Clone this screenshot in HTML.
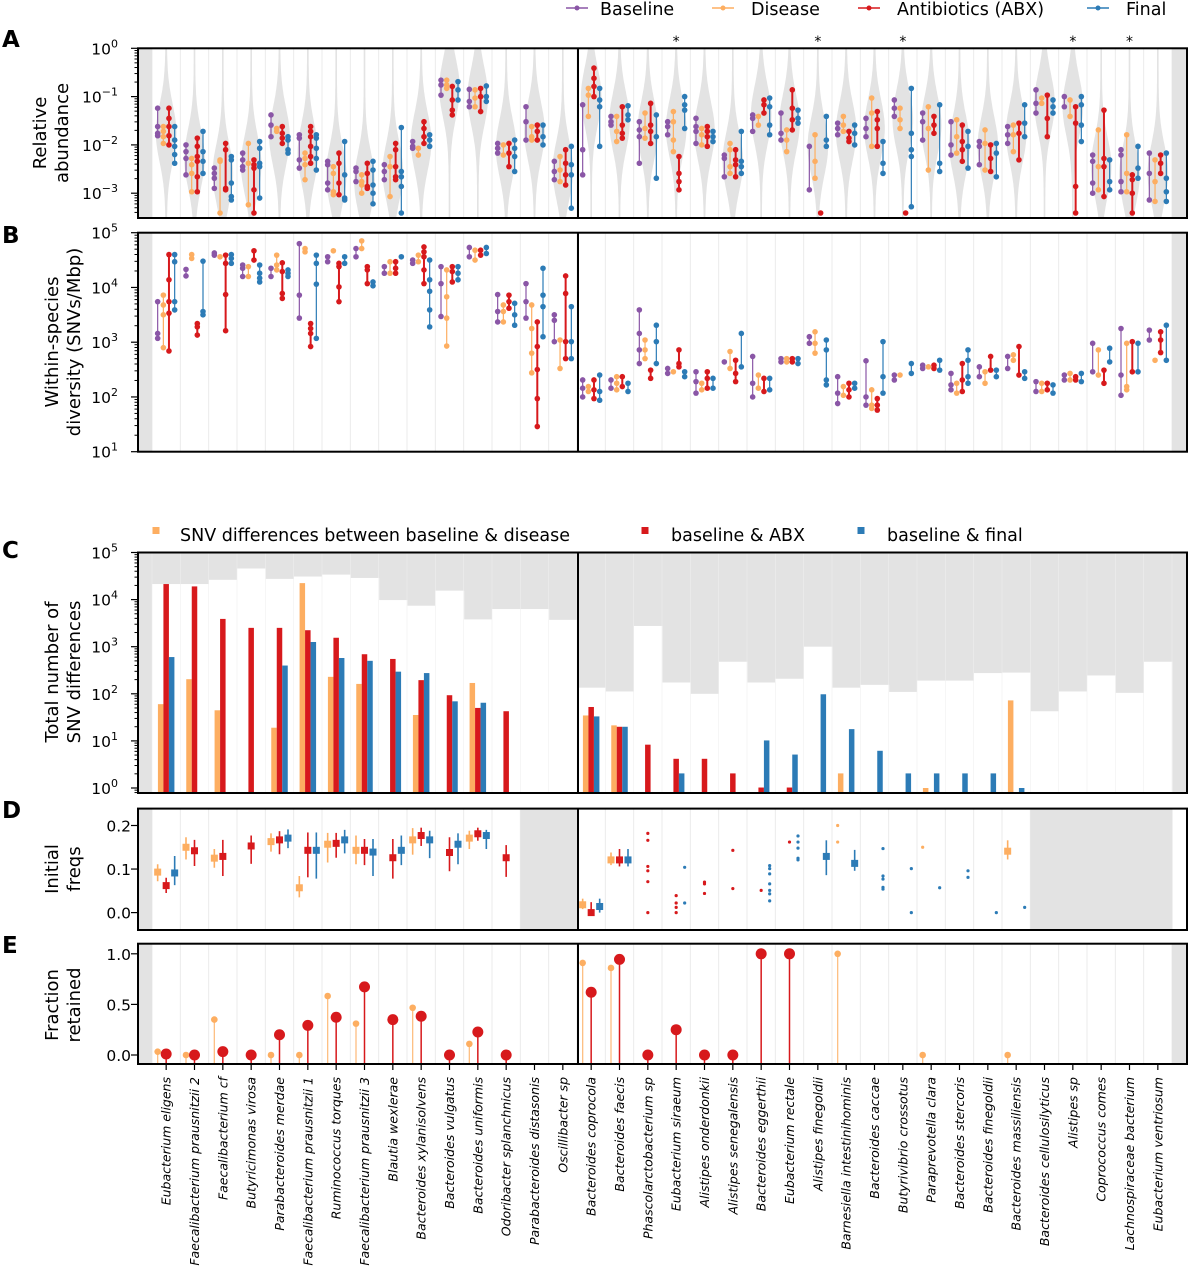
<!DOCTYPE html>
<html><head><meta charset="utf-8"><style>
body{margin:0;background:#fff}
svg{display:block;font-family:"DejaVu Sans","Liberation Sans",sans-serif}
</style></head><body>
<svg id="fig" width="1189" height="1280" viewBox="0 0 1189 1280" xmlns="http://www.w3.org/2000/svg"></svg>
<script>
// ---------- DATA ----------
const species = ["Eubacterium eligens","Faecalibacterium prausnitzii 2","Faecalibacterium cf","Butyricimonas virosa","Parabacteroides merdae","Faecalibacterium prausnitzii 1","Ruminococcus torques","Faecalibacterium prausnitzii 3","Blautia wexlerae","Bacteroides xylanisolvens","Bacteroides vulgatus","Bacteroides uniformis","Odoribacter splanchnicus","Parabacteroides distasonis","Oscillibacter sp","Bacteroides coprocola","Bacteroides faecis","Phascolarctobacterium sp","Eubacterium siraeum","Alistipes onderdonkii","Alistipes senegalensis","Bacteroides eggerthii","Eubacterium rectale","Alistipes finegoldii","Barnesiella intestinihominis","Bacteroides caccae","Butyrivibrio crossotus","Paraprevotella clara","Bacteroides stercoris","Bacteroides finegoldii","Bacteroides massiliensis","Bacteroides cellulosilyticus","Alistipes sp","Coprococcus comes","Lachnospiraceae bacterium","Eubacterium ventriosum"];
// Panel A: log10 relative abundance
const abBaseline = [[-1.24,-1.62,-1.76,-1.81],[-2,-2.14,-2.28,-2.62],[-2.48,-2.59,-2.69,-2.9],[-2.17,-2.31,-2.45,-2.52],[-1.38,-1.59,-1.83],[-1.79,-1.86,-2.31,-2.48],[-2.34,-2.41,-2.79,-2.93],[-2.48,-2.55,-2.76],[-2.41,-2.55,-2.72],[-1.93,-2.03,-2.07],[-0.66,-0.76,-0.97],[-0.85,-1.1,-1.21],[-1.97,-2.07,-2.17],[-1.21,-1.52,-1.9],[-2.34,-2.55,-2.72],
[-1.17,-2.1,-2.62],[-1.41,-1.52,-1.59],[-1.52,-1.69,-1.83,-2.38],[-1.52,-1.62,-1.79],[-1.45,-1.62,-1.72,-1.97],[-2.21,-2.28,-2.66],[-1.38,-1.45,-1.72],[-1.34,-1.76,-1.9],[-2.03,-2.93],[-1.55,-1.66,-1.79],[-1.45,-1.66,-1.83],[-1.07,-1.24,-1.41],[-1.34,-1.52,-1.9],[-1.52,-2,-2.21],[-1.93,-2.03,-2.41],[-1.62,-1.79,-1.97],[-0.86,-1.14,-1.34],[-1,-1.21],[-2.21,-2.34,-2.79,-3],[-2.1,-2.21,-2.76,-2.97],[-2.17,-2.59,-3.14]];
const abDisease = [[-1.62,-1.72,-1.83,-1.97],[-2.28,-2.41,-2.59,-2.97],[-2.31,-2.34,-3.41],[-1.97,-2.38,-3.24],[-1.66,-1.72],[-2.17,-2.28,-2.41,-2.72],[-2.45,-2.59,-2.97,-3.03],[-2.62,-2.76,-2.83,-3],[-2.24,-2.45,-3.07],[-2.07,-2.21],[-0.66,-0.76,-0.83],[-0.86,-1.03,-1.21],[-2,-2.21],[-1.62,-1.83,-1.9],[-2.24,-2.52,-2.76],
[-0.83,-0.97,-1.41],[-1.41,-1.72,-1.93],[-1.34,-1.66,-1.86],[-1.31,-1.52,-1.9,-2.14],[-1.66,-1.79,-2],[-1.97,-2.1,-2.45,-2.59],[-1.41,-1.59],[-1.69,-1.9,-2.14],[-1.79,-2.34,-2.69],[-1.41,-1.59,-1.72],[-1.03,-1.34,-2.03],[-1.24,-1.48,-1.66],[-1.21,-1.66,-2.52],[-1.48,-1.83,-2.17],[-1.69,-1.97,-2.52],[-1.59,-1.79,-2.14],[-1.03,-1.14],[-1.07,-1.41],[-1.69,-2.45,-2.93],[-1.79,-2.59,-2.97],[-2.31,-2.76,-3.17]];
const abAbx = [[-1.24,-1.45,-1.62,-1.81,-2],[-1.86,-2.03,-2.24,-2.34,-2.66,-2.97],[-1.97,-2.1,-2.9,-2.93],[-2.31,-2.41,-2.48,-2.93,-3.41],[-1.62,-1.76,-1.86,-1.97],[-1.62,-1.72,-1.83,-2.03,-2.24,-2.38],[-2.17,-2.38,-2.79,-3.03],[-2.38,-2.59,-2.86,-2.9],[-1.97,-2.1,-2.45,-2.66,-2.72],[-1.52,-1.66,-1.83,-1.97],[-0.79,-1.07,-1.28,-1.38],[-0.83,-1,-1.31],[-1.97,-2.17,-2.45],[-1.59,-1.72,-1.9],[-2.1,-2.38,-2.62,-2.83],
[-0.41,-0.62,-0.79,-1],[-1.21,-1.59,-1.76,-1.86],[-1.14,-1.59,-1.72,-1.97],[-2.24,-2.59,-2.76,-2.93],[-1.62,-1.72,-1.83,-2.03],[-2.1,-2.31,-2.41,-2.66],[-1.07,-1.17,-1.34],[-0.86,-1.24,-1.48,-1.69],[-3.41],[-1.72,-1.86,-1.93],[-1.31,-1.48,-1.66,-2.03],[-3.41],[-1.41,-1.59,-1.76],[-1.59,-1.93,-2.1,-2.34],[-2,-2.28,-2.55],[-1.55,-1.76,-2.31],[-0.97,-1.45,-1.83],[-1.21,-1.55,-2.86,-3.41],[-1.28,-2.28,-2.45,-3.07],[-2.62,-2.72,-3,-3.41],[-2.21,-2.38,-2.59]];
const abFinal = [[-1.62,-1.9,-2.03,-2.2,-2.38],[-1.72,-2.14,-2.34,-2.59],[-2.24,-2.31,-2.79,-3.07,-3.14],[-1.93,-2.07,-2.38,-2.45,-3.1],[-1.83,-1.9,-2.1,-2.17],[-1.79,-1.86,-2.07,-2.28,-2.52],[-1.93,-2.62,-3.1,-3.14],[-2.34,-2.52,-2.83,-3,-3.22],[-1.64,-2.55,-2.66,-2.86,-3.41],[-1.79,-1.9,-2.03],[-0.69,-0.86,-1.07],[-0.78,-1,-1.1],[-1.9,-2.07,-2.24,-2.55],[-1.59,-1.83,-2],[-2.03,-2.41,-2.62,-3.31],
[-0.83,-1.07,-1.21,-2.03],[-1.19,-1.38,-1.48],[-1.38,-1.83,-2.69],[-1,-1.17,-1.28,-1.66],[-1.72,-1.83,-1.93],[-1.72,-2.34,-2.45,-2.59],[-1.03,-1.21,-1.59,-1.79],[-1.28,-1.45,-1.55],[-1.41,-1.9,-2.03],[-1.59,-1.76,-2],[-1.93,-2.38,-2.59],[-0.83,-1.76,-2.1,-2.24,-3.28],[-1.17,-2.38,-2.55],[-1.72,-2.03,-2.48],[-1.97,-2.17,-2.66],[-1.17,-1.55,-1.83],[-1.07,-1.21,-1.34],[-1,-1.17,-1.59,-1.93],[-2.31,-2.76,-2.93],[-2.03,-2.48,-2.69],[-2.17,-2.69,-2.97,-3.17]];
const starCats = [18,23,26,32,34];
// Panel B: log10 SNVs/Mbp
const divBaseline = [[3.74,3.16,3.07],[4.33,4.21],[4.63,4.59],[4.41,4.35,4.2],[4.35,4.2],[4.8,3.86,3.44],[4.56,4.47],[4.71,4.56],[4.38,4.26],[4.5,4.44],[4.38,4.07,3.47],[4.73,4.56],[3.87,3.56,3.37],[4.07,3.74,3.44],[3.5,3.4,3.01],
[2.31,2.16,2.0],[2.31,2.16],[3.59,3.16,2.86,2.61],[2.52,2.43],[2.46,2.28,2.07],[2.64],[2.74,2.25,2.0],[2.7,2.64],[3.1,2.98],[2.37,2.07,1.88],[2.66,2.0,1.85],[2.4,2.31],[2.58,2.52],[2.43,2.22,2.13],[2.55,2.37],[2.74,2.52],[2.28,2.1],[2.4,2.31],[2.98,2.46],[3.25,2.4,2.03],[3.22,3.04]];
const divDisease = [[3.86,3.68,3.5,2.9],[4.6,4.53],[4.56],[4.38,4.2],[4.59,4.41,4.32],[4.71,4.65],[4.67],[4.85,4.71],[4.47,4.26],[4.59,4.47],[4.32,3.83,3.44,2.93],[4.68,4.5],[3.68,3.56,3.37],[3.68,3.25,2.8,2.44],[3.04,2.52],
[2.19,2.1],[2.37,2.25,2.13],[3.04,2.86,2.7],[2.46],[2.25,2.13],[2.83,2.52],[2.4,2.16],[2.7,2.64],[3.19,2.98,2.8],[2.19,2.03],[2.13,1.85,1.79],[2.4],[2.55],[2.25,2.07],[2.46,2.25],[2.77,2.67],[2.25,2.1],[2.43,2.31],[2.86,2.4],[2.98,2.19,2.13],[2.67]];
const divAbx = [[4.6,4.14,3.74,3.53,2.84],[3.34,3.28,3.13],[4.59,4.44,3.87,3.21],[4.67,4.5],[4.45,4.29,3.89,3.8],[3.34,3.25,3.16,2.92],[4.44,4.38,4.01,3.74],[4.38,4.32,4.07],[4.47,4.35,4.26],[4.74,4.65,4.56,4.32,4.07],[4.38,4.29,4.1],[4.68,4.59],[3.86,3.74,3.62],[3.37,2.92,2.5,1.97,1.46],[4.21,3.89,3.01,2.7],
[2.31,2.13,1.97],[2.37,2.19],[2.49,2.34],[2.86,2.61,2.55],[2.46,2.34,2.16],[2.67,2.43,2.28],[2.34,2.1],[2.7,2.64],[],[2.25,2.13,2.0],[1.97,1.85,1.76],[],[2.58,2.52],[2.61,2.31,2.1],[2.74,2.49],[2.92,2.4],[2.25,2.13],[2.37,2.31],[2.49,2.25],[3.01,2.46],[3.19,3.04,2.81]];
const divFinal = [[4.6,4.47,3.74,3.59],[4.48,3.56,3.5],[4.6,4.53,4.44],[4.41,4.26,4.17,4.1],[4.32,4.26,4.2],[4.59,4.44,4.06,3.07],[4.56,4.44],[4.1,4.03],[4.56],[4.5,4.14,3.93,3.59,3.28],[4.38,4.26,4.14],[4.73,4.62],[3.71,3.5,3.31],[4.35,3.86,3.65,3.1],[3.65,3.01,2.7],
[2.4,2.1,1.94],[2.25,2.1],[3.31,3.01,2.61],[2.46,2.37],[2.34,2.16],[3.16,2.55],[2.34,2.13],[2.7,2.61],[3.04,2.86,2.31,2.22],[2.25,2.16],[3.01,2.37,2.07],[2.61,2.43],[2.67,2.49],[2.86,2.67,2.37,2.25],[2.49,2.37],[2.46,2.34],[2.22,2.07],[2.43,2.28],[2.89,2.64],[2.98,2.46],[3.31,2.67]];
// Panel C: log10 number of SNV differences
const snvTotal = [4.33,4.33,4.42,4.66,4.44,4.49,4.53,4.46,3.99,3.87,4.19,3.58,3.8,3.8,3.57,2.13,2.05,3.44,2.24,2.0,2.68,2.24,2.32,3.0,2.13,2.19,2.04,2.28,2.28,2.44,2.45,1.63,2.05,2.39,2.02,2.68];
const snvDisease = [1.78,2.31,1.65,null,1.28,4.35,2.36,2.21,null,1.55,null,2.23,null,null,null,1.54,1.33,null,null,null,null,null,null,null,0.31,null,null,0.0,null,null,1.86,null,null,null,null,null];
const snvAbx = [4.33,4.28,3.59,3.4,3.4,3.35,3.19,2.84,2.74,2.29,1.97,1.7,1.63,null,null,1.72,1.3,0.92,0.62,0.62,0.31,0.01,0.01,null,null,null,null,null,null,null,null,null,null,null,null,null];
const snvFinal = [2.78,null,null,null,2.6,3.1,2.76,2.7,2.47,2.44,1.84,1.81,null,null,null,1.52,1.3,null,0.31,null,null,1.01,0.71,1.99,1.25,0.79,0.31,0.31,0.31,0.31,0.0,null,null,null,null,null];
// Panel D: initial freqs [mean, low, high]
const freqDisease = [[0.093,0.072,0.111],[0.15,0.122,0.173],[0.125,0.103,0.146],null,[0.163,0.14,0.182],[0.057,0.035,0.084],[0.157,0.115,0.183],[0.143,0.111,0.177],null,[0.167,0.133,0.194],null,[0.171,0.146,0.188],null,null,null,[0.018,0.008,0.032],[0.121,0.109,0.138],null,null,null,null,null,null,null,null,null,null,null,null,null,[0.141,0.122,0.166],null,null,null,null,null];
const freqAbx = [[0.062,0.045,0.08],[0.142,0.107,0.167],[0.129,0.084,0.167],[0.153,0.112,0.177],[0.167,0.134,0.187],[0.143,0.081,0.184],[0.159,0.126,0.183],[0.143,0.109,0.169],[0.126,0.078,0.169],[0.177,0.153,0.195],[0.138,0.095,0.173],[0.181,0.165,0.195],[0.126,0.082,0.155],null,null,[0.0,0.0,0.024],[0.121,0.106,0.146],null,null,null,null,null,null,null,null,null,null,null,null,null,null,null,null,null,null,null];
const freqFinal = [[0.091,0.063,0.13],null,null,null,[0.171,0.148,0.191],[0.143,0.078,0.184],[0.167,0.136,0.19],[0.139,0.084,0.169],[0.143,0.109,0.177],[0.167,0.125,0.188],[0.157,0.111,0.182],[0.177,0.146,0.19],null,null,null,[0.014,0.0,0.032],[0.121,0.106,0.146],null,null,null,null,null,null,[0.129,0.086,0.166],[0.113,0.096,0.144],null,null,null,null,null,null,null,null,null,null,null];
const dotsDisease = [[],[],[],[],[],[],[],[],[],[],[],[],[],[],[],[],[],[],[],[],[],[],[],[],[0.2,0.162],[],[],[0.15],[],[],[],[],[],[],[],[]];
const dotsAbx = [[],[],[],[],[],[],[],[],[],[],[],[],[],[],[],[],[],[0.182,0.166,0.106,0.096,0.071,0.0],[0.039,0.022,0.012,0.0],[0.07,0.066,0.044],[0.143,0.055],[0.051],[0.162],[],[],[],[],[],[],[],[],[],[],[],[],[]];
const dotsFinal = [[],[],[],[],[],[],[],[],[],[],[],[],[],[],[],[],[],[],[0.104,0.022],[],[],[0.108,0.101,0.089,0.066,0.051,0.043,0.027],[0.176,0.162,0.148,0.125,0.121],[],[],[0.147,0.084,0.077,0.058,0.054],[0.101,0.0],[0.057],[0.096,0.081],[0.0],[0.012],[],[],[],[],[]];
const freqMissing = [13,14,31,32,33,34,35];
// Panel E: fraction retained
const retDisease = [0.033,0,0.35,null,0,0,0.583,0.31,null,0.467,null,0.11,null,null,null,0.91,0.86,null,null,null,null,null,null,null,1.0,null,null,0,null,null,0,null,null,null,null,null];
const retAbx = [0.01,0,0.033,0,0.2,0.293,0.373,0.673,0.35,0.383,0,0.227,0,null,null,0.62,0.945,0,0.25,0,0,1.0,1.0,null,null,null,null,null,null,null,null,null,null,null,null,null];

// ---------- HELPERS ----------
const NS = "http://www.w3.org/2000/svg";
const svg = document.getElementById('fig');
function el(tag, attrs, parent){ const e=document.createElementNS(NS,tag); for(const k in attrs) e.setAttribute(k,attrs[k]); (parent||svg).appendChild(e); return e; }
const COL = {P:"#8a56a6",O:"#fdae61",R:"#d7191c",B:"#2c7bb6"};
const X0=152, X1=1172, N=species.length, W=(X1-X0)/N, AXL=138, AXR=1187;
const xc = i => X0+(i+0.5)*W;
const P = {
 A:{t:48.3,b:218, y:l=>48.3+(0-l)*48.3},
 B:{t:232.7,b:451.7, y:l=>232.7+(5-l)*54.75},
 C:{t:552.5,b:793, y:l=>552.5+(5-l)*47.1},
 D:{t:808.6,b:930, y:v=>912.6-v*435.5},
 E:{t:943.7,b:1064, y:v=>1055-v*101.2}
};
function panelBg(p, name){
  el('rect',{x:AXL,y:p.t,width:AXR-AXL,height:p.b-p.t,fill:'#fff'});
  for(let i=0;i<=N;i++){ const l=el('line',{x1:X0+i*W,x2:X0+i*W,y1:p.t,y2:p.b,stroke:'#ebebeb','stroke-width':1});
      }
}
function grayStrips(p){
  el('rect',{x:AXL,y:p.t,width:X0-AXL,height:p.b-p.t,fill:'#e3e3e3'});
  el('rect',{x:X1,y:p.t,width:AXR-X1,height:p.b-p.t,fill:'#e3e3e3'});
}
function frame(p,name){
  const d=el('line',{x1:578,x2:578,y1:p.t,y2:p.b,stroke:'#000','stroke-width':2});
   
  const r=el('rect',{x:AXL,y:p.t,width:AXR-AXL,height:p.b-p.t,fill:'none',stroke:'#000','stroke-width':2});
   
}
function logTicks(p,lo,hi,majors){
  for(let n=Math.floor(lo);n<Math.ceil(hi);n++) for(let k=2;k<10;k++){ const l=n+Math.log10(k); if(l<lo||l>hi) continue;
    el('line',{x1:AXL-3.5,x2:AXL,y1:p.y(l),y2:p.y(l),stroke:'#000','stroke-width':1}); }
  majors.forEach(m=>{ el('line',{x1:AXL-7,x2:AXL,y1:p.y(m),y2:p.y(m),stroke:'#000','stroke-width':1.2});
    const t=el('text',{x:118,y:p.y(m)+6,'text-anchor':'end','font-size':15.5});
     
    t.appendChild(document.createTextNode('10'));
    const s=el('tspan',{'font-size':11,dy:-7},t); s.textContent=(m<0?'\u2212'+(-m):String(m)); });
}
function linTicks(p,vals,labels){
  vals.forEach((v,i)=>{ el('line',{x1:AXL-7,x2:AXL,y1:p.y(v),y2:p.y(v),stroke:'#000','stroke-width':1.2});
    const t=el('text',{x:131,y:p.y(v)+6,'text-anchor':'end','font-size':15.5}); t.textContent=labels[i];
      });
}
function ytitle(lines,x,y,name){
  const t=el('text',{transform:`translate(${x},${y}) rotate(-90)`,'text-anchor':'middle','font-size':18});
   
  lines.forEach((s,i)=>{ const ts=el('tspan',{x:0,dy:i===0?(-(lines.length-1)*11+7):22},t); ts.textContent=s; });
}
function panelLetter(ch,y){ const t=el('text',{x:2,y:y,'font-size':23,'font-weight':'bold'}); t.textContent=ch;
    }

// ---------- LEGEND TOP ----------
[["Baseline",COL.P,570,600],["Disease",COL.O,716,751],["Antibiotics (ABX)",COL.R,862,897],["Final",COL.B,1091,1126]].forEach(([lab,c,lx,tx])=>{
  const g=el('g',{});  
  el('line',{x1:lx-4,x2:lx+18,y1:8,y2:8,stroke:c,'stroke-width':1.5},g);
  el('circle',{cx:lx+7,cy:8,r:2.5,fill:c},g);
  const t=el('text',{x:tx,y:15,'font-size':17.5},g); t.textContent=lab;
});

// ---------- PANEL A ----------
(function(){
  const p=P.A, lo=-3.51, hi=0;
  panelBg(p,'abundance-panel'); grayStrips(p);
  const groups=[abBaseline,abDisease,abAbx,abFinal];
  for(let i=0;i<N;i++){
    const all=[].concat(...groups.map(g=>g[i])).sort((a,b)=>a-b);
    const med=all[Math.floor(all.length/2)];
    let left=[],right=[];
    for(let l=hi;l>=lo;l-=0.05){ const w=9.5*Math.exp(-0.5*Math.pow((l-med)/0.6,2))+0.8;
      left.push([xc(i)-w,p.y(l)]); right.push([xc(i)+w,p.y(l)]); }
    const pts=left.concat(right.reverse()).map(q=>q[0].toFixed(1)+','+q[1].toFixed(1)).join(' ');
    const v=el('polygon',{points:pts,fill:'#e3e3e3'});  
  }
  const offs=[-8.5,-2.8,2.8,8.5], cols=[COL.P,COL.O,COL.R,COL.B];
  groups.forEach((g,gi)=>g.forEach((arr,i)=>{ if(!arr.length) return;
    const x=xc(i)+offs[gi], ys=arr.map(p.y);
    el('line',{x1:x,x2:x,y1:Math.min(...ys),y2:Math.max(...ys),stroke:cols[gi],'stroke-width':gi===2?2:1.2});
    ys.forEach(y=>{ const c=el('circle',{cx:x,cy:y,r:2.8,fill:cols[gi]});   });
  }));
  starCats.forEach(i=>{ const t=el('text',{x:xc(i),y:46,'text-anchor':'middle','font-size':14}); t.textContent='*';
      });
  frame(p,'abundance-panel'); logTicks(p,lo,hi,[0,-1,-2,-3]);
  ytitle(["Relative","abundance"],50,133,'y-axis-title-abundance'); panelLetter('A',47);
})();

// ---------- PANEL B ----------
(function(){
  const p=P.B;
  panelBg(p,'diversity-panel'); grayStrips(p);
  const groups=[divBaseline,divDisease,divAbx,divFinal], offs=[-8.5,-2.8,2.8,8.5], cols=[COL.P,COL.O,COL.R,COL.B];
  groups.forEach((g,gi)=>g.forEach((arr,i)=>{ if(!arr.length) return;
    const x=xc(i)+offs[gi], ys=arr.map(p.y);
    el('line',{x1:x,x2:x,y1:Math.min(...ys),y2:Math.max(...ys),stroke:cols[gi],'stroke-width':gi===2?2:1.2});
    ys.forEach(y=>{ const c=el('circle',{cx:x,cy:y,r:2.8,fill:cols[gi]});   });
  }));
  frame(p,'diversity-panel'); logTicks(p,1,5,[1,2,3,4,5]);
  ytitle(["Within-species","diversity (SNVs/Mbp)"],62,342,'y-axis-title-diversity'); panelLetter('B',243);
})();

// ---------- LEGEND C ----------
[["SNV differences between baseline & disease",COL.O,156,180],["baseline & ABX",COL.R,645,671],["baseline & final",COL.B,861,887]].forEach(([lab,c,mx,tx])=>{
  const g=el('g',{});  
  el('rect',{x:mx-3.5,y:527,width:7,height:7,fill:c},g);
  const t=el('text',{x:tx,y:541,'font-size':17.5},g); t.textContent=lab;
});

// ---------- PANEL C ----------
(function(){
  const p=P.C, lo=-0.11;
  el('rect',{x:AXL,y:p.t,width:AXR-AXL,height:p.b-p.t,fill:'#e3e3e3'});
  snvTotal.forEach((v,i)=>{ const r=el('rect',{x:X0+i*W,y:p.y(v),width:W+0.5,height:p.b-p.y(v),fill:'#fff'});
      });
  for(let i=0;i<=N;i++) el('line',{x1:X0+i*W,x2:X0+i*W,y1:p.t,y2:p.b,stroke:'#efefef','stroke-width':0.6});
  const series=[[snvDisease,COL.O,-5.5],[snvAbx,COL.R,0],[snvFinal,COL.B,5.5]];
  series.forEach(([arr,c,o])=>arr.forEach((v,i)=>{ if(v===null) return;
    const r=el('rect',{x:xc(i)+o-2.75,y:p.y(v),width:5.5,height:p.b-p.y(v),fill:c});
      }));
  frame(p,'snv-panel'); logTicks(p,lo,5,[0,1,2,3,4,5]);
  ytitle(["Total number of","SNV differences"],62,672,'y-axis-title-snv'); panelLetter('C',558);
})();

// ---------- PANEL D ----------
(function(){
  const p=P.D;
  panelBg(p,'freq-panel');
  el('rect',{x:AXL,y:p.t,width:X0-AXL,height:p.b-p.t,fill:'#e3e3e3'});
  freqMissing.forEach(i=>el('rect',{x:X0+i*W,y:p.t,width:W+0.5,height:p.b-p.t,fill:'#e3e3e3'}));
  const series=[[freqDisease,dotsDisease,COL.O,-8.5],[freqAbx,dotsAbx,COL.R,0],[freqFinal,dotsFinal,COL.B,8.5]];
  series.forEach(([arr,dots,c,o])=>{
    arr.forEach((v,i)=>{ if(!v) return; const x=xc(i)+o;
      el('line',{x1:x,x2:x,y1:p.y(v[2]),y2:p.y(v[1]),stroke:c,'stroke-width':1.6});
      const r=el('rect',{x:x-3.5,y:p.y(v[0])-3.5,width:7,height:7,fill:c});
        });
    dots.forEach((d,i)=>d.forEach(v=>{ const c2=el('circle',{cx:xc(i)+o,cy:p.y(v),r:1.6,fill:c});
        }));
  });
  frame(p,'freq-panel'); linTicks(p,[0,0.1,0.2],["0.0","0.1","0.2"]);
  ytitle(["Initial","freqs"],62,869,'y-axis-title-freqs'); panelLetter('D',818);
})();

// ---------- PANEL E ----------
(function(){
  const p=P.E;
  panelBg(p,'retained-panel'); grayStrips(p);
  retDisease.forEach((v,i)=>{ if(v===null) return; const x=xc(i)-8.5;
    el('line',{x1:x,x2:x,y1:p.b,y2:p.y(v),stroke:COL.O,'stroke-width':1.3,'stroke-opacity':0.8});
    const c=el('circle',{cx:x,cy:p.y(v),r:3.3,fill:COL.O});   });
  retAbx.forEach((v,i)=>{ if(v===null) return; const x=xc(i);
    el('line',{x1:x,x2:x,y1:p.b,y2:p.y(v),stroke:COL.R,'stroke-width':1.5});
    const c=el('circle',{cx:x,cy:p.y(v),r:5.5,fill:COL.R});   });
  frame(p,'retained-panel'); linTicks(p,[0,0.5,1],["0.0","0.5","1.0"]);
  ytitle(["Fraction","retained"],62,1005,'y-axis-title-retained'); panelLetter('E',953);
})();

// ---------- X LABELS ----------
species.forEach((s,i)=>{
  el('line',{x1:xc(i),x2:xc(i),y1:P.E.b,y2:P.E.b+6,stroke:'#000','stroke-width':1.2});
  const t=el('text',{transform:`translate(${xc(i)+4.5},1077) rotate(-90)`,'text-anchor':'end','font-size':12.5,'font-style':'italic'});
  t.textContent=s;
   
});
</script>
</body></html>
